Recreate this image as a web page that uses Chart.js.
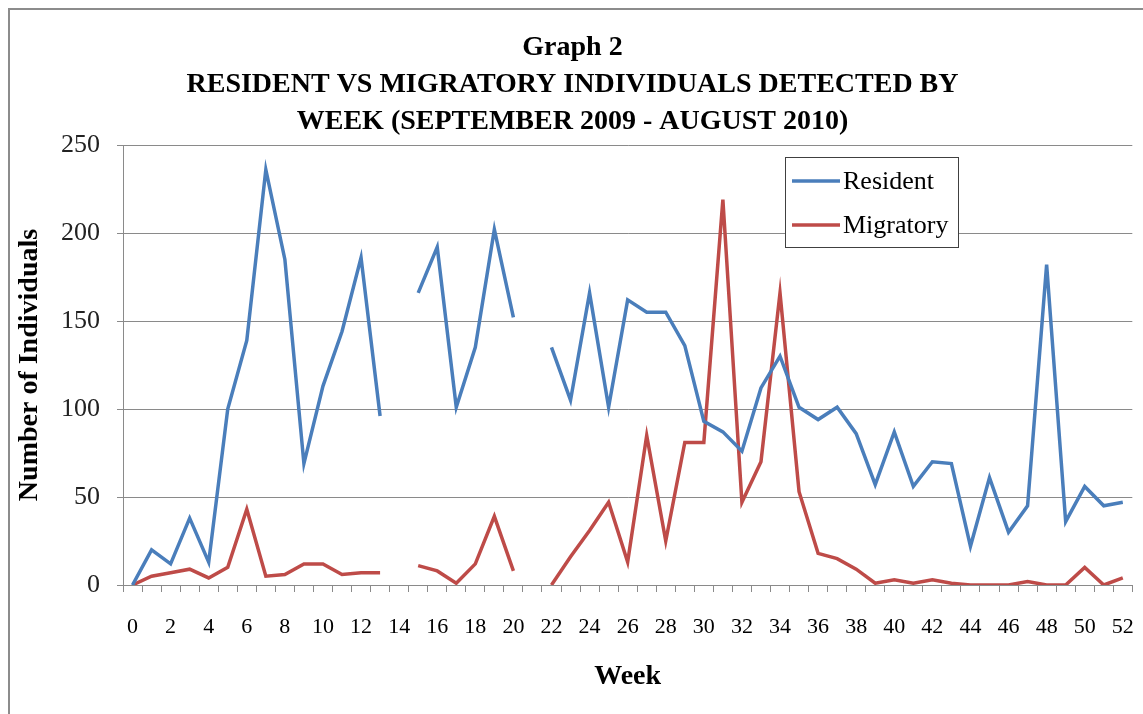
<!DOCTYPE html>
<html>
<head>
<meta charset="utf-8">
<script src="https://cdn.jsdelivr.net/npm/chart.js"></script>
<style>
  html, body { margin: 0; padding: 0; background: #fff; overflow: hidden; }
  .frame {
    position: absolute; left: 8px; top: 8px;
    width: 1160px; height: 720px;
    border: 2px solid #8c8c8c;
  }
  canvas { display: block; }
</style>
</head>
<body>
<div class="frame">
  <canvas id="chart" width="1146" height="704"></canvas>
</div>
<script>
// week numbers (x categories)
const weeks = ['0','1','2','3','4','5','6','7','8','9','10','11','12','13','14','15','16','17','18','19','20',
  '21','22','23','24','25','26','27','28','29','30','31','32','33','34','35','36','37','38','39','40',
  '41','42','43','44','45','46','47','48','49','50','51','52'];

// individuals detected per week (null = no data that week)
const resident = [0, 20, 12, 38, 13, 100, 139, 236, 185, 69, 113, 144, 186, 96, null, 166, 192, 101, 135, 202, 152,
  null, 135, 105, 166, 101, 162, 155, 155, 136, 93, 87, 76, 112, 130, 101, 94, 101, 86, 57, 87,
  56, 70, 69, 22, 61, 30, 45, 182, 36, 56, 45, 47];
const migratory = [0, 5, 7, 9, 4, 10, 43, 5, 6, 12, 12, 6, 7, 7, null, 11, 8, 1, 12, 39, 8,
  null, 0, 16, 31, 47, 13, 85, 25, 81, 81, 219, 47, 70, 166, 53, 18, 15, 9, 1, 3,
  1, 3, 1, 0, 0, 0, 2, 0, 0, 10, 0, 4];

const yTicks = [0, 50, 100, 150, 200, 250];

const serif = 'Liberation Serif';
const gridGray = '#8a8a8a';

// legend box drawn inside the plot like the Excel original
const boxLegend = {
  id: 'boxLegend',
  afterDraw(chart) {
    const ctx = chart.ctx;
    const x = 775, y = 147, w = 173, h = 90;
    ctx.save();
    ctx.fillStyle = '#fff';
    ctx.fillRect(x, y, w, h);
    ctx.strokeStyle = '#404040';
    ctx.lineWidth = 1;
    ctx.strokeRect(x + 0.5, y + 0.5, w, h);
    ctx.font = '26px "' + serif + '"';
    ctx.textBaseline = 'middle';
    chart.data.datasets.forEach((ds, i) => {
      const ly = y + 24 + i * 44;
      ctx.strokeStyle = ds.borderColor;
      ctx.lineWidth = 3.5;
      ctx.beginPath();
      ctx.moveTo(x + 7, ly);
      ctx.lineTo(x + 55, ly);
      ctx.stroke();
      ctx.fillStyle = '#000';
      ctx.fillText(ds.label, x + 58, ly + 1);
    });
    ctx.restore();
  }
};

const bgWhite = {
  id: 'bgWhite',
  beforeDraw(chart) {
    const ctx = chart.ctx;
    ctx.save();
    ctx.fillStyle = '#fff';
    ctx.fillRect(0, 0, chart.width, chart.height);
    ctx.restore();
  }
};

new Chart(document.getElementById('chart'), {
  type: 'line',
  data: {
    labels: weeks,
    datasets: [
      {
        label: 'Resident',
        data: resident,
        borderColor: '#4a7ebb',
        borderWidth: 3.5,
        pointRadius: 0,
        tension: 0,
        fill: false,
      },
      {
        label: 'Migratory',
        data: migratory,
        borderColor: '#be4b48',
        borderWidth: 3.5,
        pointRadius: 0,
        tension: 0,
        fill: false,
      },
    ],
  },
  options: {
    responsive: false,
    animation: false,
    layout: { padding: { left: 0, right: 21, top: 0, bottom: 0 } },
    plugins: {
      legend: { display: false },
      tooltip: { enabled: false },
      title: {
        display: true,
        text: ['Graph 2', 'RESIDENT VS MIGRATORY INDIVIDUALS DETECTED BY', 'WEEK (SEPTEMBER 2009 - AUGUST 2010)'],
        color: '#000',
        font: { family: serif, size: 28, weight: 'bold', lineHeight: '37px' },
        padding: { top: 19, bottom: 5 },
      },
    },
    scales: {
      x: {
        offset: true,
        grid: {
          offset: true,
          drawOnChartArea: false,
          drawTicks: true,
          tickLength: 7,
          color: gridGray,
        },
        border: { color: gridGray, width: 1 },
        ticks: {
          autoSkip: false,
          maxRotation: 0,
          padding: 22,
          color: '#000',
          font: { family: serif, size: 22 },
          callback: function (value, index) {
            return index % 2 === 0 ? this.getLabelForValue(value) : '';
          },
        },
        title: {
          display: true,
          text: 'Week',
          color: '#000',
          font: { family: serif, size: 28, weight: 'bold' },
          padding: { top: 0, bottom: 20 },
        },
        afterFit: (scale) => { scale.height = 129; },
      },
      y: {
        min: 0,
        max: 250,
        afterBuildTicks: (scale) => { scale.ticks = yTicks.map((v) => ({ value: v })); },
        grid: {
          color: gridGray,
          drawTicks: true,
          tickLength: 6,
        },
        border: { color: gridGray, width: 1 },
        ticks: {
          padding: 17,
          color: '#222',
          font: { family: serif, size: 26 },
        },
        title: {
          display: true,
          text: 'Number of Individuals',
          color: '#000',
          font: { family: serif, size: 28, weight: 'bold' },
          padding: { top: 3, bottom: 0 },
        },
        afterFit: (scale) => { scale.width = 113; },
      },
    },
  },
  plugins: [bgWhite, boxLegend],
});
</script>
</body>
</html>
